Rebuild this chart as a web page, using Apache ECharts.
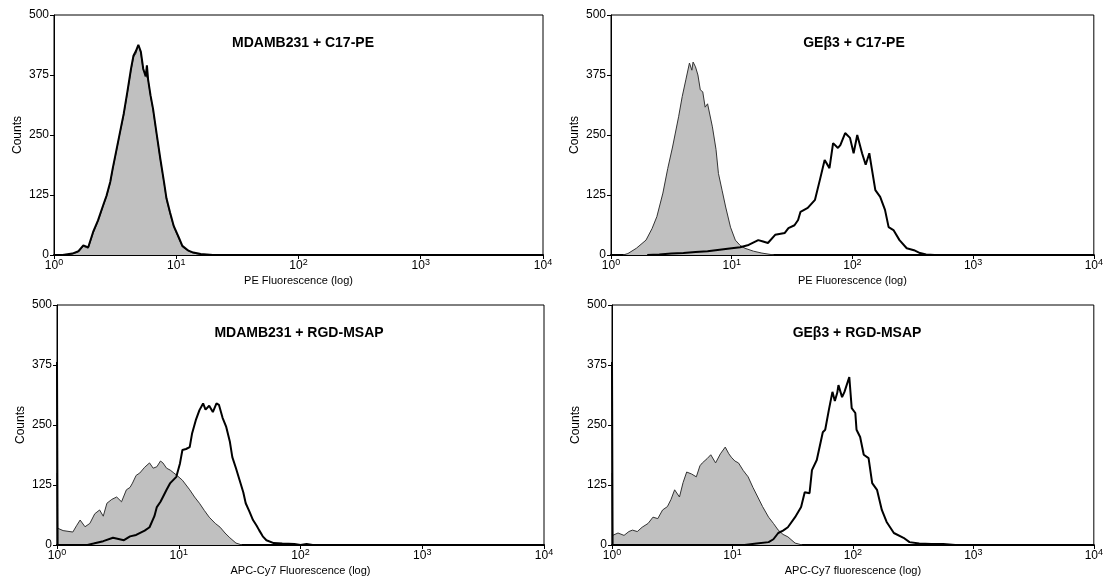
<!DOCTYPE html>
<html>
<head>
<meta charset="utf-8">
<script src="https://cdn.jsdelivr.net/npm/echarts@6/dist/echarts.min.js"></script>
<style>
  html, body { margin: 0; padding: 0; background: #fff; }
  #chart { width: 1106px; height: 583px; }
</style>
</head>
<body>
<div id="chart"></div>
<script>
// panel titles and axis names
const panelTitles = ['MDAMB231 + C17-PE', 'GEβ3 + C17-PE', 'MDAMB231 + RGD-MSAP', 'GEβ3 + RGD-MSAP'];
const xAxisNames = ['PE Fluorescence (log)', 'PE Fluorescence (log)', 'APC-Cy7 Fluorescence (log)', 'APC-Cy7 fluorescence (log)'];
const yTicks = [0, 125, 250, 375, 500];

// histogram points: [log10 fluorescence, counts]
const p1Ctrl = [[0.07,0],[0.15,2],[0.2,6],[0.24,18],[0.28,14],[0.32,45],[0.36,70],[0.4,100],[0.43,121],[0.46,150],[0.48,177],[0.51,215],[0.54,254],[0.57,290],[0.6,337],[0.63,385],[0.65,412],[0.67,420],[0.69,437],[0.71,420],[0.73,385],[0.75,375],[0.77,365],[0.79,330],[0.81,302],[0.84,250],[0.87,198],[0.9,150],[0.92,115],[0.95,85],[0.98,58],[1.02,35],[1.05,17],[1.1,8],[1.14,4],[1.2,1],[1.3,0]];
const p1Sample = [[0.07,0],[0.15,3],[0.2,8],[0.24,20],[0.28,16],[0.32,48],[0.36,72],[0.4,102],[0.43,124],[0.46,152],[0.48,180],[0.51,218],[0.54,256],[0.57,294],[0.6,340],[0.63,388],[0.65,415],[0.67,425],[0.69,438],[0.71,424],[0.73,388],[0.75,372],[0.76,395],[0.77,365],[0.79,332],[0.81,305],[0.84,252],[0.87,200],[0.9,152],[0.92,118],[0.95,88],[0.98,60],[1.02,37],[1.05,19],[1.1,9],[1.14,5],[1.2,2],[1.3,0]];

const p2Ctrl = [[0.1,0],[0.14,3],[0.21,14],[0.29,31],[0.34,55],[0.38,80],[0.43,129],[0.47,180],[0.51,225],[0.56,288],[0.59,330],[0.62,365],[0.65,400],[0.67,385],[0.68,402],[0.7,392],[0.72,375],[0.74,344],[0.76,340],[0.78,308],[0.8,315],[0.84,267],[0.87,220],[0.89,170],[0.92,135],[0.95,100],[0.99,58],[1.03,31],[1.07,20],[1.11,14],[1.18,8],[1.25,4],[1.35,0]];
const p2Sample = [[0.3,0],[0.4,1],[0.5,3],[0.6,4],[0.7,6],[0.8,8],[0.9,11],[1.0,14],[1.07,16],[1.14,21],[1.22,31],[1.26,28],[1.3,25],[1.36,42],[1.44,46],[1.47,56],[1.52,62],[1.55,73],[1.57,90],[1.63,98],[1.69,115],[1.73,156],[1.77,198],[1.81,181],[1.84,233],[1.88,223],[1.9,229],[1.94,254],[1.98,244],[2.01,212],[2.04,250],[2.08,212],[2.11,188],[2.14,212],[2.16,181],[2.19,135],[2.23,121],[2.27,94],[2.3,58],[2.34,52],[2.39,31],[2.45,14],[2.51,10],[2.56,4],[2.61,1],[2.68,0]];

const p3Ctrl = [[0,150],[0.005,35],[0.05,30],[0.13,27],[0.16,40],[0.19,52],[0.23,38],[0.27,45],[0.31,65],[0.35,73],[0.38,60],[0.41,87],[0.45,95],[0.49,100],[0.53,90],[0.57,115],[0.6,120],[0.62,129],[0.65,145],[0.68,150],[0.72,162],[0.76,171],[0.79,160],[0.82,163],[0.85,175],[0.87,171],[0.9,160],[0.93,156],[0.96,150],[0.98,146],[1.03,135],[1.06,125],[1.09,115],[1.13,100],[1.17,87],[1.21,72],[1.25,58],[1.3,45],[1.34,37],[1.38,25],[1.42,15],[1.47,4],[1.52,0]];
const p3Sample = [[0,381],[0.005,0],[0.25,0],[0.3,3],[0.38,8],[0.46,15],[0.55,10],[0.6,18],[0.65,21],[0.72,30],[0.76,37],[0.8,60],[0.82,79],[0.85,90],[0.87,100],[0.9,115],[0.93,129],[0.98,142],[1.01,170],[1.03,198],[1.06,200],[1.09,204],[1.11,233],[1.14,260],[1.17,281],[1.2,295],[1.22,282],[1.25,290],[1.28,277],[1.31,295],[1.33,292],[1.36,265],[1.39,246],[1.42,215],[1.44,183],[1.47,160],[1.5,135],[1.53,110],[1.55,87],[1.58,70],[1.61,52],[1.64,40],[1.66,31],[1.69,18],[1.72,10],[1.78,4],[1.85,3],[1.95,2],[2.0,0],[2.05,2],[2.1,0]];

const p4Ctrl = [[0,150],[0.005,20],[0.05,25],[0.1,20],[0.14,28],[0.17,31],[0.21,28],[0.25,37],[0.3,45],[0.34,58],[0.38,55],[0.42,73],[0.46,80],[0.49,95],[0.52,115],[0.56,100],[0.59,130],[0.62,152],[0.66,148],[0.7,142],[0.73,165],[0.75,171],[0.79,180],[0.82,188],[0.86,171],[0.9,190],[0.94,204],[0.97,190],[0.99,183],[1.02,175],[1.05,171],[1.09,155],[1.13,142],[1.17,120],[1.21,100],[1.25,80],[1.3,58],[1.34,45],[1.38,31],[1.42,22],[1.46,17],[1.52,4],[1.58,0]];
const p4Sample = [[0,381],[0.005,0],[1.1,0],[1.2,3],[1.3,6],[1.34,12],[1.38,25],[1.42,30],[1.46,37],[1.52,58],[1.57,79],[1.6,110],[1.64,108],[1.66,156],[1.7,177],[1.75,235],[1.77,240],[1.8,281],[1.83,319],[1.85,300],[1.87,317],[1.88,333],[1.91,308],[1.93,319],[1.97,350],[1.99,285],[2.02,275],[2.03,240],[2.06,225],[2.09,188],[2.13,181],[2.16,129],[2.2,115],[2.24,73],[2.28,48],[2.34,25],[2.42,15],[2.47,6],[2.55,3],[2.65,2],[2.75,2],[2.85,0]];

const controls = [p1Ctrl, p2Ctrl, p3Ctrl, p4Ctrl];
const samples = [p1Sample, p2Sample, p3Sample, p4Sample];

const grids = [
  { left: 54, top: 15, width: 489, height: 240 },
  { left: 611, top: 15, width: 489, height: 240 },
  { left: 57, top: 305, width: 487, height: 240 },
  { left: 612, top: 305, width: 488, height: 240 },
];
const titlePos = [[298, 31], [849, 31], [294, 321], [852, 321]];

const font = 'Liberation Sans, Arial, sans-serif';
const toPairs = (arr) => arr.map((p) => [Math.pow(10, p[0]), p[1]]);

const myChart = echarts.init(document.getElementById('chart'));
const option = {
  animation: false,
  backgroundColor: '#fff',
  title: panelTitles.map((t, i) => ({
    text: t,
    left: titlePos[i][0],
    top: titlePos[i][1],
    textAlign: 'center',
    textStyle: { fontFamily: font, fontSize: 14, fontWeight: 'bold', color: '#000' },
  })),
  grid: grids.map((g) => ({ ...g, show: true, borderColor: '#000', borderWidth: 1, backgroundColor: 'transparent' })),
  xAxis: grids.map((g, i) => ({
    type: 'log',
    logBase: 10,
    gridIndex: i,
    min: 1,
    max: 10000,
    name: xAxisNames[i],
    nameLocation: 'middle',
    nameGap: 20,
    nameTextStyle: { fontFamily: font, fontSize: 11, color: '#000' },
    axisLine: { lineStyle: { color: '#000', width: 2 } },
    axisTick: { length: 4, lineStyle: { color: '#000' } },
    splitLine: { show: false },
    minorTick: { show: false },
    axisLabel: {
      margin: 3,
      formatter: (v) => '{b|10}{s|' + Math.round(Math.log(v) / Math.LN10) + '}',
      rich: {
        b: { fontFamily: font, fontSize: 12, color: '#000', lineHeight: 14, verticalAlign: 'bottom' },
        s: { fontFamily: font, fontSize: 9, color: '#000', lineHeight: 9, verticalAlign: 'top' },
      },
    },
  })),
  yAxis: grids.map((g, i) => ({
    type: 'value',
    gridIndex: i,
    min: 0,
    max: 500,
    interval: 125,
    name: 'Counts',
    nameLocation: 'middle',
    nameGap: 30,
    nameTextStyle: { fontFamily: font, fontSize: 12, color: '#000' },
    axisLine: { show: true, lineStyle: { color: '#000', width: 1 } },
    axisTick: { show: true, length: 4, lineStyle: { color: '#000' } },
    splitLine: { show: false },
    axisLabel: {
      margin: 5,
      fontFamily: font,
      fontSize: 12,
      color: '#000',
      formatter: (v) => (yTicks.includes(v) ? String(v) : ''),
    },
  })),
  series: [
    ...controls.map((d, i) => ({
      type: 'line',
      xAxisIndex: i,
      yAxisIndex: i,
      data: toPairs(d),
      showSymbol: false,
      lineStyle: { color: '#333', width: 1 },
      areaStyle: { color: '#c0c0c0', opacity: 1 },
      z: 2,
    })),
    ...samples.map((d, i) => ({
      type: 'line',
      xAxisIndex: i,
      yAxisIndex: i,
      data: toPairs(d),
      showSymbol: false,
      lineStyle: { color: '#000', width: 2 },
      z: 3,
    })),
  ],
};
myChart.setOption(option);
window.onresize = function () {
  myChart.resize();
};
</script>
</body>
</html>
